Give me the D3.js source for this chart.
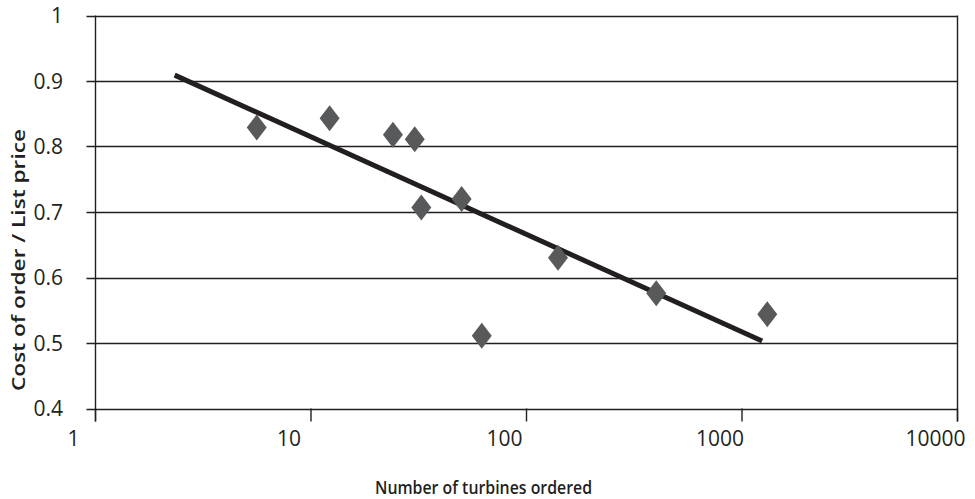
<!DOCTYPE html>
<html>
<head>
<meta charset="utf-8">
<script src="https://cdn.jsdelivr.net/npm/d3@7"></script>
<style>
  html, body { margin: 0; padding: 0; background: #fff; }
  svg { display: block; }
  text { font-family: "Open Sans", "Noto Sans", sans-serif; fill: #231f20; }
</style>
</head>
<body>
<svg id="chart" width="975" height="499"></svg>
<script>
// Data
const turbinesOrdered = [5.6, 12.2, 24, 30.3, 32.5, 50, 62, 140, 400, 1310];
const costRatio       = [0.829, 0.843, 0.818, 0.811, 0.707, 0.720, 0.511, 0.630, 0.576, 0.544];
const trendX = [2.33, 1240];
const trendY = [0.909, 0.503];
const xTicks = [1, 10, 100, 1000, 10000];
const xTickLabels = ["1", "10", "100", "1000", "10000"];
const yTicks = [0.4, 0.5, 0.6, 0.7, 0.8, 0.9, 1];
const yTickLabels = ["0.4", "0.5", "0.6", "0.7", "0.8", "0.9", "1"];
const xTitle = "Number of turbines ordered";
const yTitle = "Cost of order / List price";

const svg = d3.select("#chart");
const mLeft = 95.5, mRight = 957.5, mTop = 15.5, mBottom = 408.5;

const x = d3.scaleLog().domain([1, 10000]).range([mLeft, mRight]);
const y = d3.scaleLinear().domain([0.4, 1]).range([mBottom, mTop]);

const ink = "#231f20";

// Horizontal gridlines (with short tick stubs at left)
const gy = svg.append("g");
gy.selectAll("line").data(yTicks).join("line")
  .attr("x1", mLeft - 9).attr("x2", mRight)
  .attr("y1", d => Math.round(y(d)) + 0.5).attr("y2", d => Math.round(y(d)) + 0.5)
  .attr("stroke", ink).attr("stroke-width", 1.4);

// Y tick labels
gy.selectAll("text").data(yTicks).join("text")
  .attr("x", 63).attr("y", d => y(d))
  .attr("dy", "0.36em")
  .attr("text-anchor", "end")
  .attr("font-size", 21)
  .text((d, i) => yTickLabels[i]);

// Left axis line and right border
svg.append("line").attr("x1", mLeft).attr("x2", mLeft).attr("y1", mTop).attr("y2", mBottom + 13)
  .attr("stroke", ink).attr("stroke-width", 1.4);
svg.append("line").attr("x1", mRight).attr("x2", mRight).attr("y1", mTop).attr("y2", mBottom + 13)
  .attr("stroke", ink).attr("stroke-width", 1.4);

// X ticks
const gx = svg.append("g");
gx.selectAll("line").data(xTicks).join("line")
  .attr("x1", d => x(d)).attr("x2", d => x(d))
  .attr("y1", mBottom).attr("y2", mBottom + 13)
  .attr("stroke", ink).attr("stroke-width", 1.4);
gx.selectAll("text").data(xTicks).join("text")
  .attr("x", d => x(d) - 22).attr("y", mBottom + 37)
  .attr("text-anchor", "middle")
  .attr("font-size", 21)
  .text((d, i) => xTickLabels[i]);

// Trend line
svg.append("line")
  .attr("x1", x(trendX[0])).attr("y1", y(trendY[0]))
  .attr("x2", x(trendX[1])).attr("y2", y(trendY[1]))
  .attr("stroke", ink).attr("stroke-width", 5);

// Diamond markers
const pts = turbinesOrdered.map((t, i) => ({t, c: costRatio[i]}));
svg.append("g").selectAll("path").data(pts).join("path")
  .attr("transform", d => `translate(${x(d.t)},${y(d.c)})`)
  .attr("d", "M0,-13 L10,0 L0,13 L-10,0 Z")
  .attr("fill", "#58595b");

// Axis titles
svg.append("text")
  .attr("x", (375 + 592) / 2).attr("y", 494)
  .attr("text-anchor", "middle")
  .attr("font-size", 18).attr("font-weight", 600)
  .attr("textLength", 217).attr("lengthAdjust", "spacingAndGlyphs")
  .text(xTitle);

svg.append("text")
  .attr("transform", "translate(25,260) rotate(-90)")
  .attr("text-anchor", "middle")
  .attr("font-size", 18).attr("font-weight", 600)
  .attr("textLength", 262).attr("lengthAdjust", "spacingAndGlyphs")
  .text(yTitle);
</script>
</body>
</html>
